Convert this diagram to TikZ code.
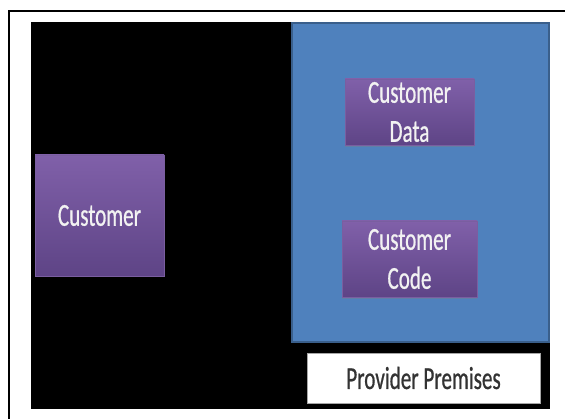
\documentclass[tikz,border=0pt]{standalone}
\usepackage{fontspec}
\usepackage{tikz}
\usetikzlibrary{shadows}
\newfontfamily\boxfont[FakeStretch=0.66,FakeBold=0.6]{Carlito}

\definecolor{slideblue}{HTML}{4F81BD}
\definecolor{slideblueline}{HTML}{3A5F8B}
\definecolor{purpletop}{HTML}{8060A9}
\definecolor{purplebottom}{HTML}{5E4486}
\definecolor{purpleline}{HTML}{7A5EA0}

\begin{document}
\begin{tikzpicture}
[x=1pt,y=-1pt,font=\boxfont\fontsize{32}{39}\selectfont]\tikzstyle{every box}
=[rectangle,inner sep=0pt,align=center,text=white!95!black,
  top color=purpletop,bottom color=purplebottom,draw=purpleline,line width=0.6pt]
\tikzstyle{inner box}=[every box,drop shadow={opacity=0.35,shadow xshift=0pt,shadow yshift=-2.5pt}]
\useasboundingbox (0,0) rectangle (565,419);
\fill[white] (0,0) rectangle (565,419);
% frame and backdrop
\draw[line width=2pt] (9,425) -- (9,11) -- (570,11);
\fill[black] (31,22) rectangle (550,409);
\node[rectangle,fill=slideblue,draw=slideblueline,line width=1.5pt,
  minimum width=257pt,minimum height=319pt] (cloud) at (420.5,182.5) {};
\node[every box,minimum width=129pt,minimum height=121pt] (cust) at (99.5,215.5) {Customer};
\node[inner box,minimum width=129pt,minimum height=66pt] (data) at (409.5,112) {Customer\\Data};
\node[inner box,minimum width=135pt,minimum height=76pt] (code) at (409.5,259) {Customer\\Code};
\node[rectangle,fill=white,draw=gray!70,line width=0.6pt,text=black!80,
  minimum width=233pt,minimum height=50pt] (prov) at (423.5,378) {Provider Premises};
\end{tikzpicture}
\end{document}
